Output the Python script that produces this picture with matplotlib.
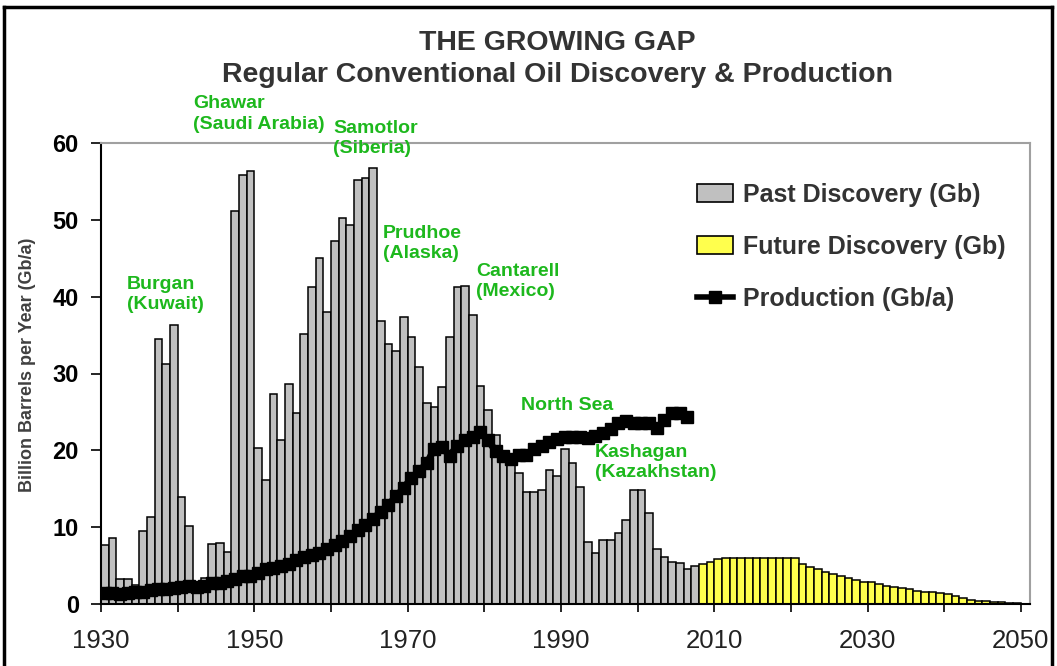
import matplotlib
matplotlib.use("Agg")
import matplotlib.pyplot as plt
from matplotlib.patches import Patch
from matplotlib.lines import Line2D
import numpy as np

plt.rcParams['font.family'] = ['Liberation Sans', 'DejaVu Sans']

# Past discovery (Gb), 1930-2007
past_years = list(range(1930, 2008))
past_disc = [7.7, 8.6, 3.2, 3.3, 2.5, 9.5, 11.3, 34.5, 31.3, 36.3,
             13.9, 10.1, 2.9, 3.4, 7.8, 8.0, 6.8, 51.1, 55.8, 56.4,
             20.3, 16.2, 27.3, 21.3, 28.6, 24.8, 35.2, 41.2, 45.0, 38.0,
             47.2, 50.2, 49.3, 55.2, 55.5, 56.8, 36.8, 33.8, 32.9, 37.3,
             34.8, 30.8, 26.2, 25.6, 28.3, 34.8, 41.2, 41.4, 37.6, 28.4,
             25.3, 22.0, 19.8, 18.6, 17.0, 14.6, 14.6, 14.8, 17.5, 16.6,
             20.2, 18.3, 15.2, 8.1, 6.7, 8.3, 8.3, 9.2, 10.9, 14.8,
             14.9, 11.9, 7.1, 6.1, 5.5, 5.4, 4.5, 5.0]

# Future discovery (Gb), 2008-2049
future_years = list(range(2008, 2050))
future_disc = [5.2, 5.5, 5.8, 6.0, 6.0, 6.0, 6.0, 6.0, 6.0, 6.0,
               6.0, 6.0, 6.0, 5.2, 4.8, 4.5, 4.2, 3.9, 3.6, 3.4,
               3.1, 2.9, 2.8, 2.6, 2.3, 2.2, 2.1, 1.9, 1.7, 1.6,
               1.5, 1.4, 1.35, 1.1, 0.8, 0.55, 0.45, 0.35, 0.3, 0.2,
               0.15, 0.1]

# Production (Gb/a), 1930-2006
prod_years = list(range(1930, 2007))
production = [1.4, 1.4, 1.3, 1.4, 1.5, 1.6, 1.8, 2.0, 2.0, 2.1,
              2.2, 2.3, 2.2, 2.4, 2.7, 2.7, 3.0, 3.3, 3.6, 3.6,
              4.0, 4.5, 4.7, 5.0, 5.2, 5.7, 6.1, 6.4, 6.6, 7.1,
              7.7, 8.2, 8.9, 9.6, 10.3, 11.1, 12.0, 12.9, 14.0, 15.1,
              16.4, 17.3, 18.3, 20.2, 20.4, 19.3, 20.6, 21.4, 21.7, 22.4,
              21.3, 19.9, 19.2, 18.9, 19.4, 19.4, 20.2, 20.5, 21.1, 21.5,
              21.8, 21.7, 21.7, 21.6, 21.9, 22.2, 22.8, 23.5, 23.8, 23.5,
              23.6, 23.5, 22.9, 23.9, 24.8, 24.9, 24.4]

fields = [("Ghawar\n(Saudi Arabia)", 1942.0, 66.2),
          ("Samotlor\n(Siberia)", 1960.3, 63.0),
          ("Prudhoe\n(Alaska)", 1966.8, 49.3),
          ("Burgan\n(Kuwait)", 1933.4, 42.7),
          ("Cantarell\n(Mexico)", 1978.9, 44.4),
          ("North Sea", 1984.8, 27.0),
          ("Kashagan\n(Kazakhstan)", 1994.4, 20.8)]

W, H = 1057, 666
fig = plt.figure(figsize=(W / 100, H / 100), dpi=100)
ax = fig.add_axes([101 / W, (H - 604) / H, (1030 - 101) / W, (604 - 143) / H])

ax.bar(past_years, past_disc, width=1.0, align='edge', color='#c0c0c0',
       edgecolor='black', linewidth=1.1, label='Past Discovery (Gb)')
ax.bar(future_years, future_disc, width=1.0, align='edge', color='#ffff4d',
       edgecolor='black', linewidth=1.1, label='Future Discovery (Gb)')
ax.plot(np.array(prod_years) + 0.5, production, color='black', linewidth=5,
        marker='s', markersize=8.5, label='Production (Gb/a)', zorder=5)

ax.set_xlim(1930, 2051.2)
ax.set_ylim(0, 60)
ax.set_yticks(range(0, 61, 10))
ax.set_xticks(range(1930, 2051, 10))
ax.set_xticklabels([str(y) if (y - 1930) % 20 == 0 else '' for y in range(1930, 2051, 10)])

for lab in ax.get_yticklabels():
    lab.set_fontweight('bold')
ax.tick_params(axis='y', direction='out', length=7, width=1.2, pad=9,
               labelsize=17, colors='black')
ax.tick_params(axis='x', direction='out', length=6, width=1.2, pad=12,
               labelsize=18.5, labelcolor='#222222')

for s in ['left', 'bottom']:
    ax.spines[s].set_color('black')
    ax.spines[s].set_linewidth(1.5)
for s in ['top', 'right']:
    ax.spines[s].set_color('#a0a0a0')
    ax.spines[s].set_linewidth(1.5)

for txt, x, y in fields:
    ax.text(x, y, txt, ha='left', va='top', fontsize=14, fontweight='bold',
            color='#1db81d', linespacing=1.25, clip_on=False, zorder=6)

handles = [Patch(facecolor='#c0c0c0', edgecolor='black', linewidth=1.2),
           Patch(facecolor='#ffff4d', edgecolor='black', linewidth=1.2),
           Line2D([0], [0], color='black', linewidth=4, marker='s', markersize=8.5)]
labels = ['Past Discovery (Gb)', 'Future Discovery (Gb)', 'Production (Gb/a)']
leg = fig.legend(handles, labels, loc='upper left',
                 bbox_to_anchor=(697 / W, (H - 183) / H), frameon=False,
                 prop={'weight': 'bold', 'size': 18}, handlelength=1.45,
                 handleheight=0.75, handletextpad=0.4, labelspacing=1.12,
                 borderpad=0, borderaxespad=0)
for t in leg.get_texts():
    t.set_color('#333333')

fig.text(557 / W, (H - 50) / H, 'THE GROWING GAP', ha='center', va='baseline',
         fontsize=20.5, fontweight='bold', color='#333333')
fig.text(557 / W, (H - 82) / H, 'Regular Conventional Oil Discovery & Production',
         ha='center', va='baseline', fontsize=20.5, fontweight='bold', color='#333333')
fig.text(28 / W, (H - 365) / H, 'Billion Barrels per Year (Gb/a)', rotation=90,
         ha='center', va='center', fontsize=13, fontweight='bold', color='#404040')

# outer frame
fig.add_artist(Line2D([4 / W, 4 / W], [-0.05, (H - 7) / H], transform=fig.transFigure,
                      color='black', linewidth=2.5))
fig.add_artist(Line2D([4 / W, 1052 / W], [(H - 7) / H, (H - 7) / H],
                      transform=fig.transFigure, color='black', linewidth=2.5))
fig.add_artist(Line2D([1052 / W, 1052 / W], [-0.05, (H - 7) / H],
                      transform=fig.transFigure, color='black', linewidth=2.5))

fig.savefig('out.png', dpi=100)
